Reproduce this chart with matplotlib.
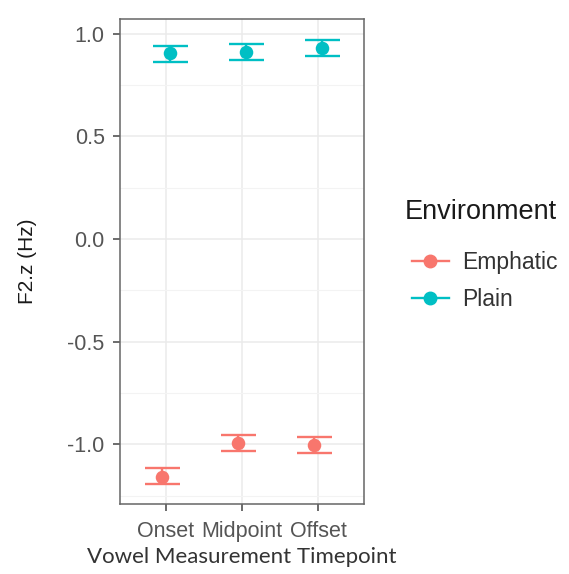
import numpy as np
import matplotlib
matplotlib.use('Agg')
import matplotlib.pyplot as plt
from matplotlib.lines import Line2D
from matplotlib.ticker import MultipleLocator, FormatStrFormatter

timepoints = ['Onset', 'Midpoint', 'Offset']
environments = ['Emphatic', 'Plain']
colors = {'Emphatic': '#F8766D', 'Plain': '#00BFC4'}

# mean F2 (z-scored) with lower / upper error bounds
emphatic_mean = [-1.157, -0.994, -1.002]
emphatic_low = [-1.194, -1.032, -1.040]
emphatic_high = [-1.116, -0.954, -0.962]
plain_mean = [0.904, 0.912, 0.928]
plain_low = [0.860, 0.870, 0.891]
plain_high = [0.939, 0.949, 0.967]

series = {
    'Emphatic': (emphatic_mean, emphatic_low, emphatic_high),
    'Plain': (plain_mean, plain_low, plain_high),
}

plt.rcParams['font.family'] = ['Liberation Sans', 'DejaVu Sans']

fig = plt.figure(figsize=(5.69, 5.74), dpi=100)
ax = fig.add_axes([0.2109, 0.1220, 0.4288, 0.8449])

x = np.arange(len(timepoints))
dodge = {'Emphatic': -0.05, 'Plain': 0.05}
for env in environments:
    mean, low, high = (np.array(v) for v in series[env])
    xs = x + dodge[env]
    ax.errorbar(xs, mean, yerr=[mean - low, high - mean], fmt='none',
                ecolor=colors[env], elinewidth=1.7, capsize=12.6,
                capthick=1.7, zorder=3)
    ax.scatter(xs, mean, s=95, color=colors[env], zorder=4, linewidths=0)

ax.set_xlim(-0.6, 2.6)
ax.set_ylim(-1.29, 1.071)
ax.set_xticks(x)
ax.set_xticklabels(timepoints)
ax.yaxis.set_major_locator(MultipleLocator(0.5))
ax.yaxis.set_minor_locator(MultipleLocator(0.25))
ax.yaxis.set_major_formatter(FormatStrFormatter('%.1f'))

ax.grid(which='major', color='#EBEBEB', linewidth=1.1, zorder=0)
ax.grid(which='minor', axis='y', color='#F3F3F3', linewidth=0.8, zorder=0)
ax.set_axisbelow(True)
for s in ax.spines.values():
    s.set_color('#666666')
    s.set_linewidth(1.1)

ax.tick_params(axis='both', which='major', length=5, width=1.1, color='#444444',
               labelsize=15.5, labelcolor='#555555')
ax.tick_params(axis='y', pad=6)
ax.tick_params(axis='x', pad=7)
ax.tick_params(axis='y', which='minor', length=0)

ax.set_ylabel('F2.z (Hz)', fontsize=15, color='#1a1a1a', labelpad=22)
ax.set_xlabel('Vowel Measurement Timepoint', fontsize=16, color='#333333',
              family=['Lato', 'DejaVu Sans'], labelpad=4)

# legend: title placed separately to get the wider ggplot-style gap
fig.text(0.711, 0.631, 'Environment', fontsize=19.5, color='#1a1a1a',
         ha='left', va='center')
handles = [Line2D([0], [0], color=colors[e], marker='o', markersize=9,
                  linewidth=1.7) for e in environments]
leg = fig.legend(handles, environments, loc='upper left',
                 bbox_to_anchor=(0.724, 0.563), frameon=False, fontsize=16.5,
                 handlelength=1.6, handletextpad=0.6, labelspacing=0.6,
                 borderaxespad=0, borderpad=0)
for t in leg.get_texts():
    t.set_color('#333333')

fig.savefig('out.png', dpi=100)
